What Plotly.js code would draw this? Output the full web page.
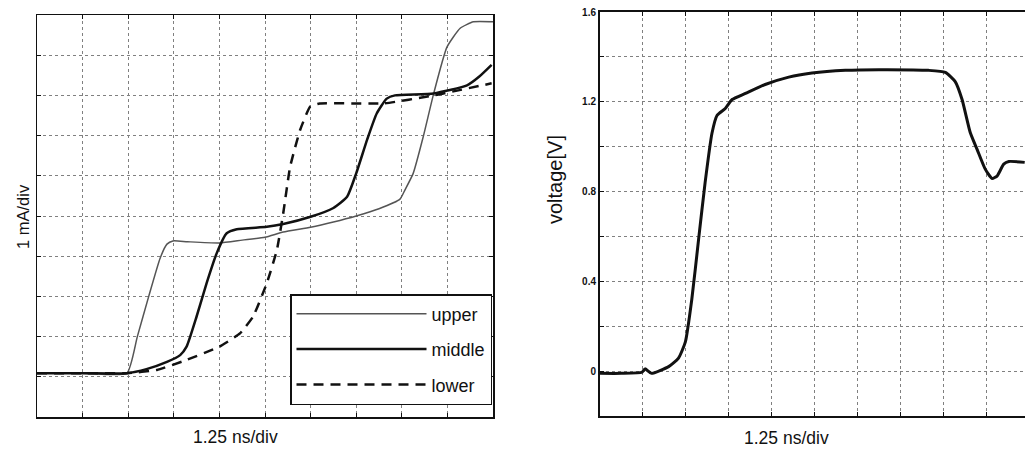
<!DOCTYPE html>
<html>
<head>
<meta charset="utf-8">
<script src="https://cdn.plot.ly/plotly-3.0.1.min.js"></script>
<style>
html,body{margin:0;padding:0;background:#fff;overflow:hidden;}
#chart{width:1025px;height:450px;}
</style>
</head>
<body>
<div id="chart"></div>
<script>
// Left panel: current traces (x in divisions of 1.25 ns, y in divisions of 1 mA)
var upperX = [0, 1, 1.97, 2.2, 2.45, 2.7, 2.85, 2.98, 3.3, 4.0, 4.5, 5.0, 5.4, 6.0, 6.5, 7.0, 7.5, 7.96, 8.07, 8.25, 8.47, 8.7, 8.99, 9.28, 9.57, 10];
var upperY = [1.09, 1.09, 1.09, 2.0, 3.0, 3.95, 4.3, 4.38, 4.36, 4.33, 4.4, 4.47, 4.6, 4.72, 4.85, 5.0, 5.18, 5.42, 5.65, 6.06, 6.97, 8.05, 9.2, 9.67, 9.83, 9.83];

var middleX = [0, 1, 1.97, 2.4, 2.85, 3.14, 3.28, 3.5, 3.72, 3.94, 4.16, 4.38, 5.04, 5.4, 6.0, 6.5, 6.8, 7.0, 7.24, 7.45, 7.67, 7.85, 8.7, 9.43, 9.7, 9.97];
var middleY = [1.09, 1.09, 1.09, 1.19, 1.37, 1.54, 1.75, 2.5, 3.33, 4.07, 4.57, 4.67, 4.73, 4.8, 4.98, 5.2, 5.48, 6.06, 6.9, 7.55, 7.92, 8.0, 8.05, 8.25, 8.47, 8.76];

var lowerX = [0, 1, 1.97, 2.63, 3.28, 4.0, 4.45, 4.74, 5.04, 5.26, 5.4, 5.55, 5.77, 5.99, 6.2, 7.6, 8.7, 9.97];
var lowerY = [1.09, 1.09, 1.09, 1.17, 1.42, 1.75, 2.08, 2.5, 3.33, 4.15, 5.07, 6.22, 7.14, 7.72, 7.8, 7.8, 8.0, 8.3];

var seriesNames = ["upper", "middle", "lower"];

// Right panel: voltage trace
var voltX = [0, 0.5, 0.98, 1.05, 1.2, 1.6, 1.83, 1.99, 2.14, 2.3, 2.45, 2.61, 2.73, 2.92, 3.08, 3.39, 3.85, 4.4, 4.94, 5.72, 6.5, 7.66, 8.05, 8.28, 8.44, 8.63, 8.79, 8.98, 9.14, 9.26, 9.41, 9.53, 9.9];
var voltY = [-0.01, -0.01, -0.005, 0.01, -0.01, 0.02, 0.058, 0.13, 0.32, 0.59, 0.84, 1.06, 1.14, 1.17, 1.21, 1.237, 1.277, 1.31, 1.328, 1.34, 1.343, 1.34, 1.331, 1.29, 1.21, 1.063, 0.988, 0.9, 0.858, 0.87, 0.922, 0.934, 0.93];

var voltTickVals = [-0.2, 0, 0.2, 0.4, 0.6, 0.8, 1.0, 1.2, 1.4, 1.6];
var voltTickText = ["", "0", "", "0.4", "", "0.8", "", "1.2", "", "1.6"];

var xTitle = "1.25 ns/div";
var leftYTitle = "1 mA/div";
var rightYTitle = "voltage[V]";

var FONT = "Liberation Sans, Arial, Helvetica, sans-serif";

var traces = [
  {x: upperX, y: upperY, name: seriesNames[0], type: "scatter", mode: "lines",
   line: {color: "#555", width: 1.5, shape: "spline", smoothing: 0.5},
   xaxis: "x", yaxis: "y", legendgroup: "a"},
  {x: middleX, y: middleY, name: seriesNames[1], type: "scatter", mode: "lines",
   line: {color: "#111", width: 2.5, shape: "spline", smoothing: 0.5},
   xaxis: "x", yaxis: "y", legendgroup: "b"},
  {x: lowerX, y: lowerY, name: seriesNames[2], type: "scatter", mode: "lines",
   line: {color: "#111", width: 2.5, dash: "10px,7px", shape: "spline", smoothing: 0.4},
   xaxis: "x", yaxis: "y", legendgroup: "c"},
  {x: voltX, y: voltY, name: "voltage", type: "scatter", mode: "lines",
   line: {color: "#111", width: 3, shape: "spline", smoothing: 0.5},
   xaxis: "x2", yaxis: "y2", showlegend: false}
];

var gridCommon = {showgrid: true, gridcolor: "#808080", gridwidth: 1, griddash: "dot",
  zeroline: false, showline: true, linecolor: "#111", ticks: "inside", ticklen: 4,
  tickcolor: "#111", tickwidth: 1};

var layout = {
  width: 1025, height: 450,
  margin: {l: 0, r: 0, t: 0, b: 0},
  paper_bgcolor: "#fff", plot_bgcolor: "#fff",
  font: {family: FONT, color: "#111"},
  showlegend: true,
  legend: {x: 290/1025, y: 1 - 294/450, xanchor: "left", yanchor: "top",
    bgcolor: "#fff", bordercolor: "#111", borderwidth: 1.5,
    font: {size: 18, family: FONT, color: "#111"},
    itemwidth: 130, traceorder: "grouped", tracegroupgap: 9},
  xaxis: Object.assign({}, gridCommon, {domain: [37/1025, 493/1025], range: [0, 10],
    dtick: 1, tick0: 0, showticklabels: false, mirror: "ticks", linewidth: 1.5}),
  yaxis: Object.assign({}, gridCommon, {domain: [1 - 417/450, 1 - 15/450], range: [0, 10],
    dtick: 1, tick0: 0, showticklabels: false, mirror: "ticks", linewidth: 1.5}),
  xaxis2: Object.assign({}, gridCommon, {domain: [600/1025, 1], range: [0, 425/42.9],
    dtick: 1, tick0: 0, showticklabels: false, mirror: "ticks", linewidth: 2, anchor: "y2"}),
  yaxis2: Object.assign({}, gridCommon, {domain: [1 - 416/450, 1 - 12/450], range: [-0.2, 1.6],
    tickmode: "array", tickvals: voltTickVals, ticktext: voltTickText, mirror: false,
    linewidth: 2, anchor: "x2", tickfont: {size: 10, family: FONT, weight: "bold", color: "#111"}}),
  annotations: [
    {text: xTitle, xref: "paper", yref: "paper", x: 235/1025, y: 1 - 437/450,
     xanchor: "center", yanchor: "middle", showarrow: false, font: {size: 17.5, family: FONT}},
    {text: xTitle, xref: "paper", yref: "paper", x: 786/1025, y: 1 - 438/450,
     xanchor: "center", yanchor: "middle", showarrow: false, font: {size: 17.5, family: FONT}},
    {text: leftYTitle, xref: "paper", yref: "paper", x: 23/1025, y: 1 - 217/450,
     xanchor: "center", yanchor: "middle", showarrow: false, textangle: -90, font: {size: 16.5, family: FONT}},
    {text: rightYTitle, xref: "paper", yref: "paper", x: 555/1025, y: 1 - 180/450,
     xanchor: "center", yanchor: "middle", showarrow: false, textangle: -90, font: {size: 20, family: FONT}}
  ]
};

Plotly.newPlot("chart", traces, layout, {staticPlot: true, displayModeBar: false});
</script>
</body>
</html>
